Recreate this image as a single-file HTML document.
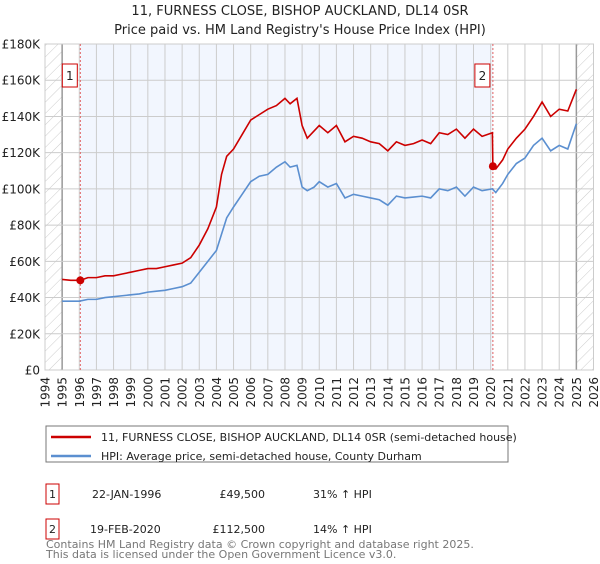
<!DOCTYPE html>
<html><head><meta charset="utf-8"><style>
body{margin:0;background:#fff;font-family:"DejaVu Sans","Liberation Sans",sans-serif;}
svg text{font-family:"DejaVu Sans","Liberation Sans",sans-serif;}
</style></head><body>
<svg id="c" width="600" height="560" xmlns="http://www.w3.org/2000/svg">
<defs><pattern id="hatch" width="8" height="8" patternUnits="userSpaceOnUse" patternTransform="rotate(45)"><line x1="0" y1="0" x2="0" y2="8" stroke="#ccc" stroke-width="1"/></pattern></defs>
<text x="300" y="15" text-anchor="middle" font-size="13" fill="#222">11, FURNESS CLOSE, BISHOP AUCKLAND, DL14 0SR</text>
<text x="300" y="34" text-anchor="middle" font-size="13" fill="#222">Price paid vs. HM Land Registry's House Price Index (HPI)</text>
<g id="plot"></g>
<rect x="46" y="426" width="462" height="36" fill="#fff" stroke="#777"/>
<line x1="51" y1="437" x2="91" y2="437" stroke="#cc0000" stroke-width="2.5"/>
<text x="101" y="441" font-size="11" fill="#222">11, FURNESS CLOSE, BISHOP AUCKLAND, DL14 0SR (semi-detached house)</text>
<line x1="51" y1="456" x2="91" y2="456" stroke="#5b8fd0" stroke-width="2.5"/>
<text x="101" y="460" font-size="11" fill="#222">HPI: Average price, semi-detached house, County Durham</text>
<rect x="46" y="484" width="13" height="20" fill="#fff" stroke="#cc0000"/>
<text x="52.5" y="498" text-anchor="middle" font-size="11" fill="#222">1</text>
<text x="92" y="498" font-size="11" fill="#222">22-JAN-1996</text>
<text x="265" y="498" text-anchor="end" font-size="11" fill="#222">£49,500</text>
<text x="313" y="498" font-size="11" fill="#222">31% ↑ HPI</text>
<rect x="46" y="519" width="13" height="20" fill="#fff" stroke="#cc0000"/>
<text x="52.5" y="533" text-anchor="middle" font-size="11" fill="#222">2</text>
<text x="90" y="533" font-size="11" fill="#222">19-FEB-2020</text>
<text x="265" y="533" text-anchor="end" font-size="11" fill="#222">£112,500</text>
<text x="313" y="533" font-size="11" fill="#222">14% ↑ HPI</text>
<text x="46" y="548" font-size="11" fill="#777">Contains HM Land Registry data © Crown copyright and database right 2025.</text>
<text x="46" y="558" font-size="11" fill="#777">This data is licensed under the Open Government Licence v3.0.</text>
</svg>
<script>
const redYears=[1995,1995.5,1996.06,1996.5,1997,1997.5,1998,1998.5,1999,1999.5,2000,2000.5,2001,2001.5,2002,2002.5,2003,2003.5,2004,2004.3,2004.6,2005,2005.5,2006,2006.5,2007,2007.5,2008,2008.3,2008.7,2009,2009.3,2009.7,2010,2010.5,2011,2011.5,2012,2012.5,2013,2013.5,2014,2014.5,2015,2015.5,2016,2016.5,2017,2017.5,2018,2018.5,2019,2019.5,2020.1,2020.13,2020.3,2020.7,2021,2021.5,2022,2022.5,2023,2023.5,2024,2024.5,2025];
const redVals=[50000,49500,49500,51000,51000,52000,52000,53000,54000,55000,56000,56000,57000,58000,59000,62000,69000,78000,90000,108000,118000,122000,130000,138000,141000,144000,146000,150000,147000,150000,135000,128000,132000,135000,131000,135000,126000,129000,128000,126000,125000,121000,126000,124000,125000,127000,125000,131000,130000,133000,128000,133000,129000,131000,112500,111000,116000,122000,128000,133000,140000,148000,140000,144000,143000,155000];
const hpiYears=[1995,1995.5,1996,1996.5,1997,1997.5,1998,1998.5,1999,1999.5,2000,2000.5,2001,2001.5,2002,2002.5,2003,2003.5,2004,2004.3,2004.6,2005,2005.5,2006,2006.5,2007,2007.5,2008,2008.3,2008.7,2009,2009.3,2009.7,2010,2010.5,2011,2011.5,2012,2012.5,2013,2013.5,2014,2014.5,2015,2015.5,2016,2016.5,2017,2017.5,2018,2018.5,2019,2019.5,2020.1,2020.3,2020.7,2021,2021.5,2022,2022.5,2023,2023.5,2024,2024.5,2025];
const hpiVals=[38000,38000,38000,39000,39000,40000,40500,41000,41500,42000,43000,43500,44000,45000,46000,48000,54000,60000,66000,75000,84000,90000,97000,104000,107000,108000,112000,115000,112000,113000,101000,99000,101000,104000,101000,103000,95000,97000,96000,95000,94000,91000,96000,95000,95500,96000,95000,100000,99000,101000,96000,101000,99000,100000,98000,103000,108000,114000,117000,124000,128000,121000,124000,122000,136000];
const yTicks=[0,20000,40000,60000,80000,100000,120000,140000,160000,180000];
const yTickLabels=["£0","£20K","£40K","£60K","£80K","£100K","£120K","£140K","£160K","£180K"];
const xTicks=[1994,1995,1996,1997,1998,1999,2000,2001,2002,2003,2004,2005,2006,2007,2008,2009,2010,2011,2012,2013,2014,2015,2016,2017,2018,2019,2020,2021,2022,2023,2024,2025,2026];
const saleYears=[1996.06,2020.13];
const saleVals=[49500,112500];

const X0=45,X1=593.5,Y0=370,Y1=44;
const sx=y=>X0+(y-1994)/(2026-1994)*(X1-X0);
const sy=v=>Y0-v/180000*(Y0-Y1);
const NS="http://www.w3.org/2000/svg";
const g=document.getElementById('plot');
function mk(t,a,p){const e=document.createElementNS(NS,t);for(const k in a)e.setAttribute(k,a[k]);(p||g).appendChild(e);return e;}
let e;
e=mk('rect',{x:X0,y:Y1,width:X1-X0,height:Y0-Y1,fill:'#fff'});


e=mk('rect',{x:sx(1994),y:Y1,width:sx(1995)-sx(1994),height:Y0-Y1,fill:'url(#hatch)'});


e=mk('rect',{x:sx(2025),y:Y1,width:sx(2026)-sx(2025),height:Y0-Y1,fill:'url(#hatch)'});


e=mk('rect',{x:sx(saleYears[0]),y:Y1,width:sx(saleYears[1])-sx(saleYears[0]),height:Y0-Y1,fill:'#f2f6fe'});


xTicks.forEach(t=>{
  e=mk('line',{x1:sx(t),x2:sx(t),y1:Y1,y2:Y0,stroke:(t==1995||t==2025)?'#999':'#ccc','stroke-width':(t==1995||t==2025)?1.5:1});
  
  
  e=mk('text',{x:0,y:0,'font-size':12,fill:'#222','text-anchor':'end',transform:`translate(${sx(t)+4.5},${Y0+7}) rotate(-90)`});
  e.textContent=t;
  
  
});
yTicks.forEach((t,i)=>{
  e=mk('line',{x1:X0,x2:X1,y1:sy(t),y2:sy(t),stroke:'#ccc'});
  
  
  e=mk('text',{x:40,y:sy(t)+4.5,'font-size':12,fill:'#222','text-anchor':'end'});
  e.textContent=yTickLabels[i];
  
  
});
e=mk('rect',{x:X0,y:Y1,width:X1-X0,height:Y0-Y1,fill:'none',stroke:'#ccc'});


saleYears.forEach((s,i)=>{
  e=mk('line',{x1:sx(s),x2:sx(s),y1:Y1,y2:Y0,stroke:'#e06060','stroke-dasharray':'2,2'});
  
  
});
e=mk('polyline',{points:hpiYears.map((y,i)=>sx(y)+','+sy(hpiVals[i])).join(' '),fill:'none',stroke:'#5b8fd0','stroke-width':1.6});


e=mk('polyline',{points:redYears.map((y,i)=>sx(y)+','+sy(redVals[i])).join(' '),fill:'none',stroke:'#cc0000','stroke-width':1.6});


saleYears.forEach((s,i)=>{
  e=mk('circle',{cx:sx(s),cy:sy(saleVals[i]),r:4,fill:'#cc0000'});
  
  
  e=mk('rect',{x:sx(s)-18,y:64,width:15,height:23,fill:'#fff',stroke:'#cc0000'});
  
  
  e=mk('text',{x:sx(s)-10.5,y:80,'font-size':12,fill:'#222','text-anchor':'middle'});
  e.textContent=i+1;
  
  
});
</script>
</body></html>
